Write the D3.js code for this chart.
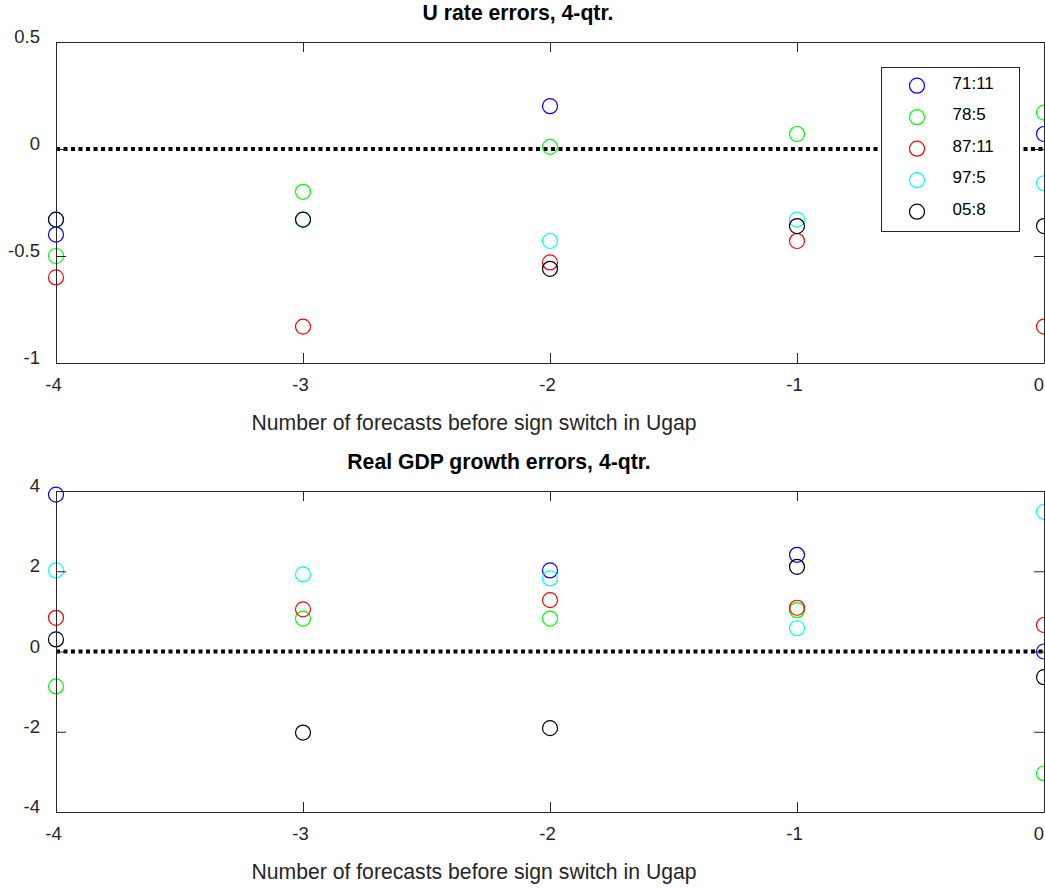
<!DOCTYPE html>
<html>
<head>
<meta charset="utf-8">
<script src="https://cdn.jsdelivr.net/npm/d3@7"></script>
<style>
  html, body { margin: 0; padding: 0; background: #fff; }
  svg { display: block; }
  text { font-family: "Liberation Sans", Arial, sans-serif; }
</style>
</head>
<body>
<svg id="chart" width="1045" height="888"></svg>
<script>
// ---------- data ----------
const xTicks = [-4, -3, -2, -1, 0];
const seriesNames = ["71:11", "78:5", "87:11", "97:5", "05:8"];
const seriesColors = ["#0000ff", "#00ff00", "#ff0000", "#00ffff", "#000000"];

// U rate errors, 4-qtr. (values at x = -4, -3, -2, -1, 0)
const uRate_71_11 = [-0.40, null, 0.20, null, 0.07];
const uRate_78_5  = [-0.50, -0.20, 0.01, 0.07, 0.17];
const uRate_87_11 = [-0.60, -0.83, -0.53, -0.43, -0.83];
const uRate_97_5  = [-0.33, -0.33, -0.43, -0.33, -0.16];
const uRate_05_8  = [-0.33, -0.33, -0.56, -0.36, -0.36];
const uRateYTicks = [-1, -0.5, 0, 0.5];
const uRateYLabels = ["-1", "-0.5", "0", "0.5"];

// Real GDP growth errors, 4-qtr.
const gdp_71_11 = [3.91, null, 2.02, 2.41, 0.00];
const gdp_78_5  = [-0.87, 0.82, 0.82, 1.03, -3.04];
const gdp_87_11 = [0.84, 1.05, 1.28, 1.09, 0.66];
const gdp_97_5  = [2.02, 1.92, 1.82, 0.58, 3.48];
const gdp_05_8  = [0.30, -2.02, -1.91, 2.11, -0.64];
const gdpYTicks = [-4, -2, 0, 2, 4];
const gdpYLabels = ["-4", "-2", "0", "2", "4"];

const xLabel = "Number of forecasts before sign switch in Ugap";

// ---------- drawing ----------
const svg = d3.select("#chart");
const axisColor = "#262626";

function panel(cfg) {
  const x = d3.scaleLinear().domain([-4, 0]).range([56, 1044]);
  const y = d3.scaleLinear().domain(cfg.yDomain).range([cfg.bottom, cfg.top]);
  const g = svg.append("g");

  // zero reference line (dotted)
  g.append("line")
    .attr("x1", x(-4)).attr("x2", x(0))
    .attr("y1", y(0)).attr("y2", y(0))
    .attr("stroke", "#000").attr("stroke-width", 4)
    .attr("stroke-dasharray", "4,3.5");

  // markers
  cfg.series.forEach((vals, i) => {
    g.append("g").selectAll("circle")
      .data(vals.map((v, j) => ({x: xTicks[j], v})).filter(d => d.v !== null))
      .join("circle")
      .attr("cx", d => x(d.x))
      .attr("cy", d => y(d.v))
      .attr("r", 7.5)
      .attr("fill", "none")
      .attr("stroke", seriesColors[i])
      .attr("stroke-width", 1.2);
  });

  // axes (ticks inward, box formed by 4 domain paths)
  const style = sel => {
    sel.selectAll("path, line").attr("stroke", axisColor).attr("stroke-width", 1);
    sel.selectAll("text").attr("fill", axisColor).attr("font-size", 18.5)
      .attr("font-family", '"Liberation Sans", Arial, sans-serif');
  };

  const bottomAx = g.append("g").attr("transform", `translate(0,${cfg.bottom})`)
    .call(d3.axisBottom(x).tickValues(xTicks).tickSizeInner(-10).tickSizeOuter(0)
      .tickFormat(d3.format("d")));
  bottomAx.call(style);
  bottomAx.selectAll("text").attr("y", 27.5).attr("dy", 0)
    .attr("dx", d => d === 0 ? -5.5 : -3)
    .text(d => d === 0 ? "0" : String(d));

  const topAx = g.append("g").attr("transform", `translate(0,${cfg.top})`)
    .call(d3.axisTop(x).tickValues(xTicks).tickSizeInner(-10).tickSizeOuter(0).tickFormat(""));
  topAx.call(style);

  const leftAx = g.append("g").attr("transform", `translate(${x(-4)},0)`)
    .call(d3.axisLeft(y).tickValues(cfg.yTicks).tickSizeInner(-10).tickSizeOuter(0)
      .tickFormat((d, i) => cfg.yLabels[i]));
  leftAx.call(style);
  leftAx.selectAll("text").attr("x", -16).attr("dy", 0).attr("y", 0.5);

  const rightAx = g.append("g").attr("transform", `translate(${x(0)},0)`)
    .call(d3.axisRight(y).tickValues(cfg.yTicks).tickSizeInner(-10).tickSizeOuter(0).tickFormat(""));
  rightAx.call(style);

  // title
  svg.append("text")
    .attr("x", cfg.titleX).attr("y", cfg.top - 22.5)
    .attr("text-anchor", "middle")
    .attr("font-size", 21.2).attr("font-weight", "bold").attr("fill", "#000")
    .text(cfg.title);

  // x label
  svg.append("text")
    .attr("x", 474).attr("y", cfg.bottom + 67)
    .attr("text-anchor", "middle")
    .attr("font-size", 21.2).attr("fill", axisColor)
    .text(xLabel);

  return {x, y, g};
}

panel({
  title: "U rate errors, 4-qtr.", titleX: 518,
  top: 42, bottom: 363, yDomain: [-1, 0.5],
  yTicks: uRateYTicks, yLabels: uRateYLabels,
  series: [uRate_71_11, uRate_78_5, uRate_87_11, uRate_97_5, uRate_05_8]
});

panel({
  title: "Real GDP growth errors, 4-qtr.", titleX: 499,
  top: 491, bottom: 812, yDomain: [-4, 4],
  yTicks: gdpYTicks, yLabels: gdpYLabels,
  series: [gdp_71_11, gdp_78_5, gdp_87_11, gdp_97_5, gdp_05_8]
});

// legend (top panel)
const lg = svg.append("g");
lg.append("rect")
  .attr("x", 881.5).attr("y", 67.5).attr("width", 138).attr("height", 164)
  .attr("fill", "#fff").attr("stroke", axisColor).attr("stroke-width", 1);
seriesNames.forEach((name, i) => {
  const cy = 85.7 + i * 31.5;
  lg.append("circle").attr("cx", 917).attr("cy", cy).attr("r", 7.5)
    .attr("fill", "none").attr("stroke", seriesColors[i]).attr("stroke-width", 1.2);
  lg.append("text").attr("x", 952.5).attr("y", cy + 2.8)
    .attr("font-size", 17).attr("fill", "#000").text(name);
});
</script>
</body>
</html>
